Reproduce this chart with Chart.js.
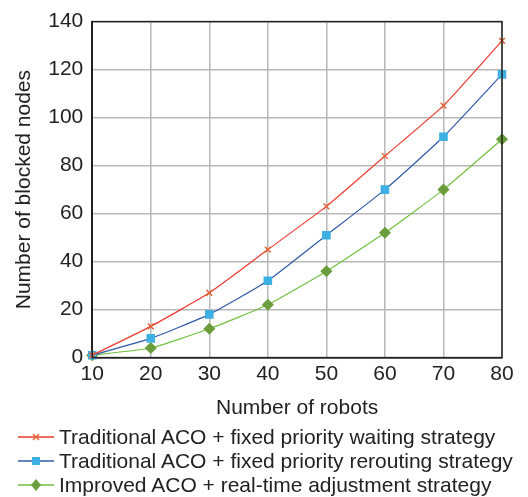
<!DOCTYPE html>
<html>
<head>
<meta charset="utf-8">
<script src="https://cdn.jsdelivr.net/npm/chart.js@4"></script>
<style>
  body{margin:0;background:#fff;font-family:"Liberation Sans",Arial,sans-serif;}
  #wrap{position:relative;width:528px;height:497px;}
  #c{position:absolute;left:0;top:0;}
  #legend{position:absolute;left:18px;top:425px;font-size:21px;color:#222;line-height:24px;}
  .row{display:flex;align-items:center;white-space:nowrap;}
  .row canvas{margin-right:5px;}
</style>
</head>
<body>
<div id="wrap">
  <canvas id="c" width="528" height="425"></canvas>
  <div id="legend"></div>
</div>
<script>
const robots = [10,20,30,40,50,60,70,80];
const waiting = [1,13,27,45,63,84,105,132];
const rerouting = [1,8,18,32,51,70,92,118];
const improved = [1,4,12,22,36,52,70,91];
const names = [
  'Traditional ACO + fixed priority waiting strategy',
  'Traditional ACO + fixed priority rerouting strategy',
  'Improved ACO + real-time adjustment strategy'
];

const series = [
  {label:names[0], data:waiting, line:'#ee3a2e', mark:'#e2653a', style:'crossRot', r:4},
  {label:names[1], data:rerouting, line:'#2f5aa8', mark:'#3cb0e2', style:'rect', r:5},
  {label:names[2], data:improved, line:'#72c040', mark:'#6a9e3c', style:'rectRot', r:5}
];

const boxPlugin = {
  id:'box',
  afterDraw(chart){
    const a = chart.chartArea, ctx = chart.ctx;
    ctx.save();
    ctx.strokeStyle = '#222';
    ctx.lineWidth = 1.5;
    ctx.strokeRect(a.left, a.top, a.right-a.left, a.bottom-a.top);
    ctx.restore();
  }
};

new Chart(document.getElementById('c'), {
  type:'line',
  data:{
    datasets: series.map(s=>({
      label:s.label,
      data:robots.map((x,i)=>({x, y:s.data[i]})),
      borderColor:s.line,
      borderWidth:1.2,
      backgroundColor:s.mark,
      pointBackgroundColor:s.mark,
      pointBorderColor:s.mark,
      pointBorderWidth:1.5,
      pointStyle:s.style,
      pointRadius:s.r,
      tension:0.15,
      clip:false
    }))
  },
  options:{
    responsive:false,
    animation:false,
    layout:{padding:{left:8,right:26,top:12,bottom:0}},
    plugins:{legend:{display:false}, tooltip:{enabled:false}},
    scales:{
      x:{
        type:'linear', min:10, max:80,
        ticks:{stepSize:10, color:'#222', font:{size:21, family:'Liberation Sans'}, padding:4},
        grid:{color:'#b8b8b8', lineWidth:1.5, drawTicks:false},
        border:{color:'#222', width:1.5},
        title:{display:true, text:'Number of robots', color:'#222', font:{size:21, family:'Liberation Sans'}, padding:{top:5}}
      },
      y:{
        min:0, max:140,
        ticks:{stepSize:20, color:'#222', font:{size:21, family:'Liberation Sans'}, padding:9},
        grid:{color:'#b8b8b8', lineWidth:1.5, drawTicks:false},
        border:{color:'#222', width:1.5},
        title:{display:true, text:'Number of blocked nodes', color:'#222', font:{size:21, family:'Liberation Sans'}, padding:{bottom:2}}
      }
    }
  },
  plugins:[boxPlugin]
});

// legend rows: short line with marker, then text
const leg = document.getElementById('legend');
series.forEach(s=>{
  const row = document.createElement('div'); row.className='row';
  const cv = document.createElement('canvas'); cv.width=36; cv.height=14;
  const g = cv.getContext('2d');
  g.strokeStyle=s.line; g.lineWidth=1.5;
  g.beginPath(); g.moveTo(0,7); g.lineTo(36,7); g.stroke();
  g.fillStyle=s.mark; g.strokeStyle=s.mark;
  if(s.style==='crossRot'){
    g.lineWidth=1.5; g.beginPath();
    g.moveTo(15,4); g.lineTo(21,10); g.moveTo(21,4); g.lineTo(15,10); g.stroke();
  } else if(s.style==='rect'){
    g.fillRect(14,3,8,8);
  } else {
    g.beginPath(); g.moveTo(18,1); g.lineTo(23,7); g.lineTo(18,13); g.lineTo(13,7); g.closePath(); g.fill();
  }
  const t = document.createElement('span'); t.textContent=s.label;
  row.appendChild(cv); row.appendChild(t);
  leg.appendChild(row);
});
</script>
</body>
</html>
